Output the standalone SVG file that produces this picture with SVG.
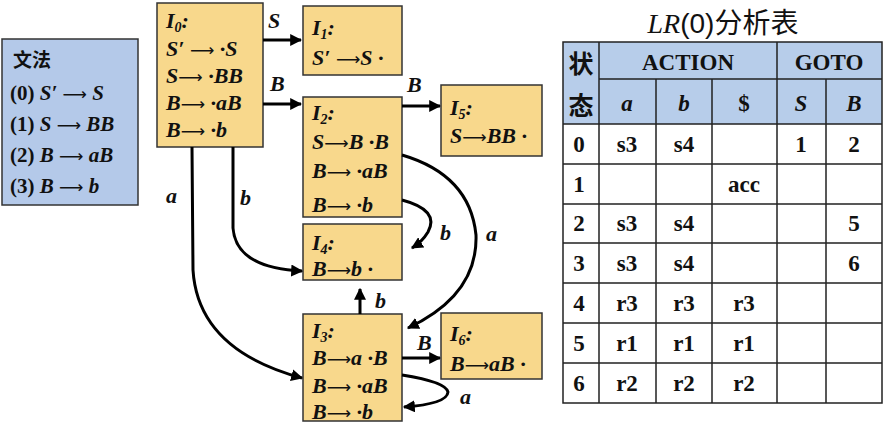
<svg xmlns="http://www.w3.org/2000/svg" width="887" height="427" viewBox="0 0 887 427">
<style>
.box{fill:#f8d88c;stroke:#333;stroke-width:1.5}
.gbox{fill:#b4c9e9;stroke:#333;stroke-width:1.5}
.it{font-family:"Liberation Serif","DejaVu Serif",serif;font-weight:bold;font-style:italic;font-size:22px;fill:#111}
.g{font-family:"Liberation Serif","DejaVu Serif",serif;font-weight:bold;font-size:21px;fill:#111}
.lbl{font-family:"Liberation Serif","DejaVu Serif",serif;font-weight:bold;font-style:italic;font-size:22px;fill:#111}
.edge{fill:none;stroke:#000;stroke-width:3}
.hd{fill:#b7cdea}
.grid{stroke:#222;stroke-width:1.5;fill:none}
.tt{font-family:"Liberation Serif","DejaVu Serif",serif;font-weight:bold;font-size:23px;fill:#111;text-anchor:middle}
.cj{font-family:"Noto Sans CJK SC",sans-serif;font-size:25px;fill:#111;text-anchor:middle}
.la{font-family:"DejaVu Sans",sans-serif;font-weight:normal;font-style:normal;font-size:17px}
</style>
<defs>
<marker id="ah" viewBox="0 0 10 10" refX="9" refY="5" markerWidth="4" markerHeight="4" orient="auto" markerUnits="strokeWidth">
<path d="M0,0 L10,5 L0,10 z" fill="#000"/>
</marker>
</defs>
<rect width="887" height="427" fill="#fff"/>

<g id="grammar">
<rect class="gbox" x="2" y="39" width="136" height="166"/>
<text x="13" y="67" font-family="Noto Sans CJK SC,sans-serif" font-size="19" font-weight="bold" fill="#111">文法</text>
<text class="g" x="10" y="100">(0) <tspan font-style="italic">S′</tspan> <tspan class="la">⟶</tspan> <tspan font-style="italic">S</tspan></text>
<text class="g" x="10" y="131">(1) <tspan font-style="italic">S</tspan> <tspan class="la">⟶</tspan> <tspan font-style="italic">BB</tspan></text>
<text class="g" x="10" y="162">(2) <tspan font-style="italic">B</tspan> <tspan class="la">⟶</tspan> <tspan font-style="italic">aB</tspan></text>
<text class="g" x="10" y="193">(3) <tspan font-style="italic">B</tspan> <tspan class="la">⟶</tspan> <tspan font-style="italic">b</tspan></text>
</g>

<g id="I0">
<rect class="box" x="157" y="3" width="106" height="144"/>
<text class="it" x="166" y="28">I<tspan font-size="14" dy="4">0</tspan><tspan dy="-4">:</tspan></text>
<text class="it" x="166" y="56">S′ <tspan class="la">⟶</tspan> ·S</text>
<text class="it" x="166" y="83">S<tspan class="la">⟶</tspan> ·BB</text>
<text class="it" x="166" y="110">B<tspan class="la">⟶</tspan> ·aB</text>
<text class="it" x="166" y="137">B<tspan class="la">⟶</tspan> ·b</text>
</g>

<g id="I1">
<rect class="box" x="303" y="6" width="99" height="69"/>
<text class="it" x="312" y="35">I<tspan font-size="14" dy="4">1</tspan><tspan dy="-4">:</tspan></text>
<text class="it" x="312" y="65">S′ <tspan class="la">⟶</tspan>S ·</text>
</g>

<g id="I2">
<rect class="box" x="303" y="97" width="99" height="120"/>
<text class="it" x="312" y="120">I<tspan font-size="14" dy="4">2</tspan><tspan dy="-4">:</tspan></text>
<text class="it" x="312" y="149">S<tspan class="la">⟶</tspan>B ·B</text>
<text class="it" x="312" y="178">B<tspan class="la">⟶</tspan> ·aB</text>
<text class="it" x="312" y="212">B<tspan class="la">⟶</tspan> ·b</text>
</g>

<g id="I5">
<rect class="box" x="441" y="85" width="101" height="71"/>
<text class="it" x="450" y="115">I<tspan font-size="14" dy="4">5</tspan><tspan dy="-4">:</tspan></text>
<text class="it" x="450" y="143">S<tspan class="la">⟶</tspan>BB ·</text>
</g>

<g id="I4">
<rect class="box" x="303" y="224" width="99" height="56"/>
<text class="it" x="312" y="250">I<tspan font-size="14" dy="4">4</tspan><tspan dy="-4">:</tspan></text>
<text class="it" x="312" y="276">B<tspan class="la">⟶</tspan>b ·</text>
</g>

<g id="I3">
<rect class="box" x="303" y="314" width="99" height="107"/>
<text class="it" x="312" y="338">I<tspan font-size="14" dy="4">3</tspan><tspan dy="-4">:</tspan></text>
<text class="it" x="312" y="365">B<tspan class="la">⟶</tspan>a ·B</text>
<text class="it" x="312" y="393">B<tspan class="la">⟶</tspan> ·aB</text>
<text class="it" x="312" y="419">B<tspan class="la">⟶</tspan> ·b</text>
</g>

<g id="I6">
<rect class="box" x="441" y="313" width="101" height="66"/>
<text class="it" x="450" y="341">I<tspan font-size="14" dy="4">6</tspan><tspan dy="-4">:</tspan></text>
<text class="it" x="450" y="371">B<tspan class="la">⟶</tspan>aB ·</text>
</g>

<g id="connectors">
<path class="edge" d="M263,40 L301,40" marker-end="url(#ah)"/>
<path class="edge" d="M263,104 L301,104" marker-end="url(#ah)"/>
<path class="edge" d="M402,106 L440,106" marker-end="url(#ah)"/>
<path class="edge" d="M402,358 L440,358" marker-end="url(#ah)"/>
<path class="edge" d="M360,314 L360,289" marker-end="url(#ah)"/>
<path class="edge" d="M233,147 L233,228 Q236,268 302,271" marker-end="url(#ah)"/>
<path class="edge" d="M192,147 L193,270 Q198,350 302,378" marker-end="url(#ah)"/>
<path class="edge" d="M402,200 Q440,210 428,232 Q422,242 412,248" marker-end="url(#ah)"/>
<path class="edge" d="M402,155 Q470,175 476,235 Q478,295 408,328" marker-end="url(#ah)"/>
<path class="edge" d="M402,375 Q446,382 448,392 Q447,404 404,407" marker-end="url(#ah)"/>
<text class="lbl" x="268" y="28">S</text>
<text class="lbl" x="270" y="91">B</text>
<text class="lbl" x="407" y="92">B</text>
<text class="lbl" x="417" y="350">B</text>
<text class="lbl" x="375" y="308">b</text>
<text class="lbl" x="240" y="205">b</text>
<text class="lbl" x="166" y="203">a</text>
<text class="lbl" x="440" y="240">b</text>
<text class="lbl" x="486" y="241">a</text>
<text class="lbl" x="460" y="404">a</text>
</g>

<g id="table">
<text x="723" y="33" text-anchor="middle" font-size="28" fill="#111"><tspan font-family="Liberation Serif,serif" font-style="italic">LR</tspan><tspan font-family="Liberation Sans,sans-serif">(0)</tspan><tspan font-family="Noto Sans CJK SC,sans-serif">分析表</tspan></text>
<rect class="hd" x="563" y="42" width="319" height="82"/>
<path class="grid" d="M563,42 H882 V403 H563 Z M599,79 H882 M563,124 H882 M563,164 H882 M563,204 H882 M563,243 H882 M563,283 H882 M563,323 H882 M563,363 H882 M599,42 V403 M777,42 V403 M656,79 V403 M712,79 V403 M826,79 V403"/>
<text class="cj" x="581" y="73" font-weight="bold">状</text>
<text class="cj" x="581" y="115" font-weight="bold">态</text>
<text class="tt" x="688" y="70">ACTION</text>
<text class="tt" x="829" y="70">GOTO</text>
<text class="tt" x="627" y="111" font-style="italic">a</text>
<text class="tt" x="684" y="111" font-style="italic">b</text>
<text class="tt" x="744" y="111">$</text>
<text class="tt" x="801" y="111" font-style="italic">S</text>
<text class="tt" x="854" y="111" font-style="italic">B</text>
<text class="tt" x="579" y="152">0</text><text class="tt" x="627" y="152">s3</text><text class="tt" x="684" y="152">s4</text><text class="tt" x="801" y="152">1</text><text class="tt" x="854" y="152">2</text>
<text class="tt" x="579" y="192">1</text><text class="tt" x="744" y="192">acc</text>
<text class="tt" x="579" y="231">2</text><text class="tt" x="627" y="231">s3</text><text class="tt" x="684" y="231">s4</text><text class="tt" x="854" y="231">5</text>
<text class="tt" x="579" y="271">3</text><text class="tt" x="627" y="271">s3</text><text class="tt" x="684" y="271">s4</text><text class="tt" x="854" y="271">6</text>
<text class="tt" x="579" y="311">4</text><text class="tt" x="627" y="311">r3</text><text class="tt" x="684" y="311">r3</text><text class="tt" x="744" y="311">r3</text>
<text class="tt" x="579" y="351">5</text><text class="tt" x="627" y="351">r1</text><text class="tt" x="684" y="351">r1</text><text class="tt" x="744" y="351">r1</text>
<text class="tt" x="579" y="391">6</text><text class="tt" x="627" y="391">r2</text><text class="tt" x="684" y="391">r2</text><text class="tt" x="744" y="391">r2</text>
</g>
</svg>
